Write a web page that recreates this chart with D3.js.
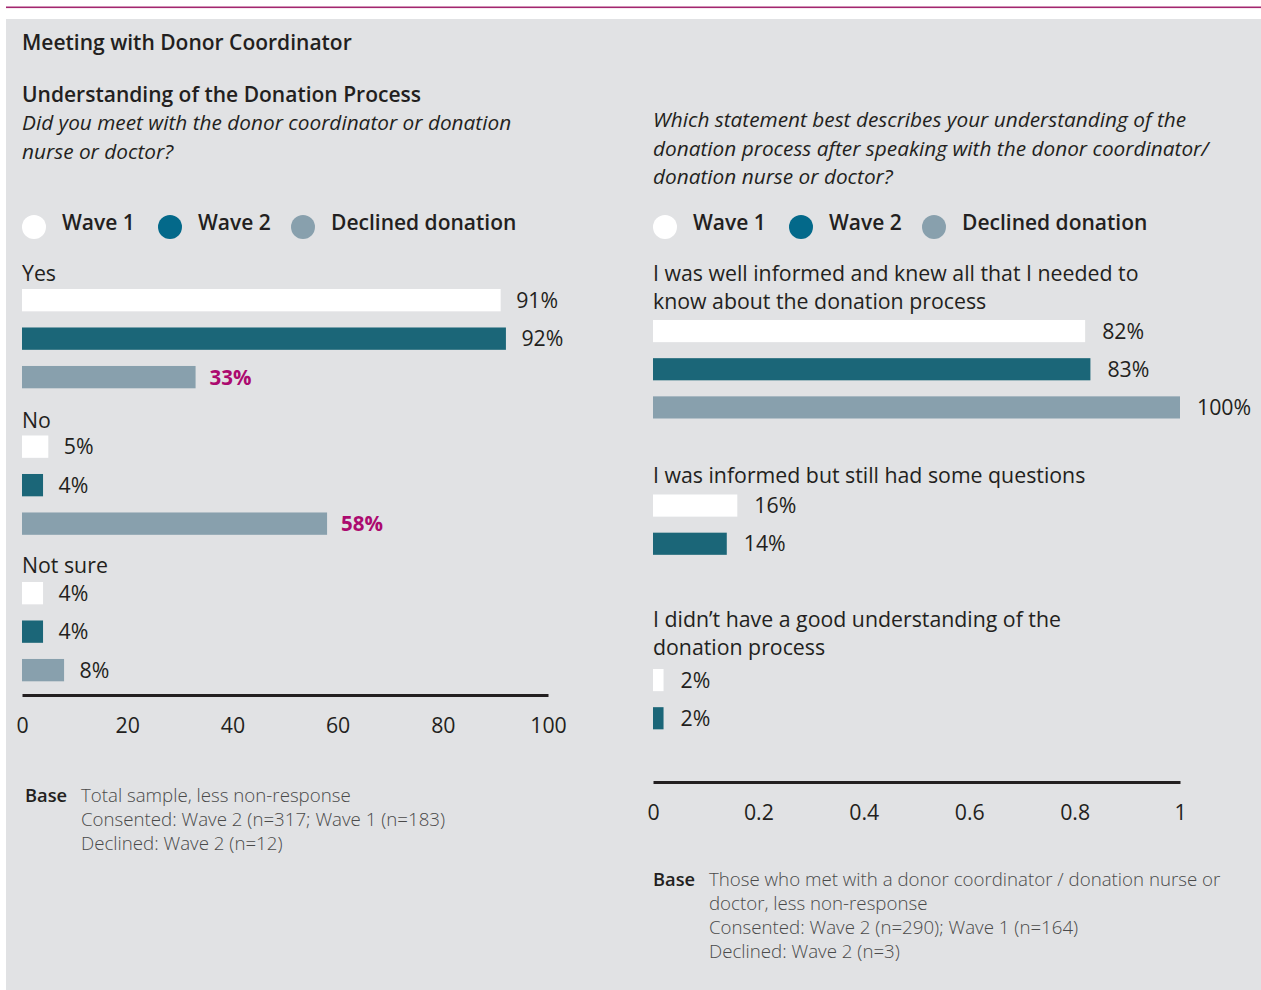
<!DOCTYPE html>
<html>
<head>
<meta charset="utf-8">
<script src="https://cdn.jsdelivr.net/npm/d3@7"></script>
<style>
  html, body { margin: 0; padding: 0; background: #ffffff; }
  svg { display: block; font-family: "Open Sans", "Noto Sans", sans-serif; }
</style>
</head>
<body>
<svg id="chart" width="1261" height="990"></svg>
<script>
// ---- Data -------------------------------------------------------------
const seriesNames = ["Wave 1", "Wave 2", "Declined donation"];

// Left panel: Did you meet with the donor coordinator or donation nurse or doctor?
const leftCategories = ["Yes", "No", "Not sure"];
const leftWave1 = [91, 5, 4];
const leftWave2 = [92, 4, 4];
const leftDeclined = [33, 58, 8];
const leftDeclinedHighlight = [true, true, false];
const leftTicks = [0, 20, 40, 60, 80, 100];

// Right panel: understanding of the donation process
const rightCategories = [
  "I was well informed and knew all that I needed to know about the donation process",
  "I was informed but still had some questions",
  "I didn’t have a good understanding of the donation process"
];
const rightCategoryLines = [
  ["I was well informed and knew all that I needed to", "know about the donation process"],
  ["I was informed but still had some questions"],
  ["I didn’t have a good understanding of the", "donation process"]
];
const rightWave1 = [0.82, 0.16, 0.02];
const rightWave2 = [0.83, 0.14, 0.02];
const rightDeclined = [1.00, null, null];
const rightTicks = [0, 0.2, 0.4, 0.6, 0.8, 1];

const leftBase = ["Total sample, less non-response",
                  "Consented: Wave 2 (n=317; Wave 1 (n=183)",
                  "Declined: Wave 2 (n=12)"];
const rightBase = ["Those who met with a donor coordinator / donation nurse or",
                   "doctor, less non-response",
                   "Consented: Wave 2 (n=290); Wave 1 (n=164)",
                   "Declined: Wave 2 (n=3)"];

// ---- Styles -------------------------------------------------------------
const barColors = { "Wave 1": "#ffffff", "Wave 2": "#1b6678", "Declined donation": "#88a0ad" };
const dotColors = { "Wave 1": "#ffffff", "Wave 2": "#03698a", "Declined donation": "#88a0ad" };
const ink = "#231f20";
const accent = "#ac0a6f";
const bodySize = 21.3;

const svg = d3.select("#chart");

// page frame
svg.append("rect").attr("x", 6).attr("y", 6.5).attr("width", 1255).attr("height", 1.6)
  .attr("fill", "#a3266f");
svg.append("rect").attr("x", 6).attr("y", 19).attr("width", 1255).attr("height", 971)
  .attr("fill", "#e1e2e4");

// headings
svg.append("text").attr("x", 22).attr("y", 50).attr("fill", ink)
  .attr("font-size", 21).attr("font-weight", 600).text("Meeting with Donor Coordinator");
svg.append("text").attr("x", 22).attr("y", 102).attr("fill", ink)
  .attr("font-size", 21).attr("font-weight", 600).text("Understanding of the Donation Process");

function italicBlock(x, y0, lines) {
  const t = svg.append("text").attr("fill", ink).attr("font-size", 20.8)
    .attr("font-style", "italic").attr("font-weight", 400);
  lines.forEach((s, i) => t.append("tspan").attr("x", x).attr("y", y0 + i * 28.5).text(s));
}
italicBlock(22, 130, ["Did you meet with the donor coordinator or donation", "nurse or doctor?"]);
italicBlock(653, 127, ["Which statement best describes your understanding of the",
                       "donation process after speaking with the donor coordinator/",
                       "donation nurse or doctor?"]);

// legends
function legend(xs, y) {
  const g = svg.append("g");
  seriesNames.forEach((name, i) => {
    g.append("circle").attr("cx", xs[i]).attr("cy", y).attr("r", 12)
      .attr("fill", dotColors[name]);
    g.append("text").attr("x", xs[i] + 28).attr("y", y + 3).attr("fill", ink)
      .attr("font-size", 21).attr("font-weight", 600).text(name);
  });
}
legend([34, 170, 303], 227);
legend([665, 801, 934], 227);

// ---- Panels -------------------------------------------------------------
function panel(cfg) {
  const g = svg.append("g");
  const x = d3.scaleLinear().domain(cfg.domain).range(cfg.xRange);
  const yGroup = d3.scaleBand().domain(cfg.categories).range(cfg.yRange).padding(0);
  const yInner = d3.scaleBand().domain(seriesNames).range([0, cfg.innerSpan]).paddingInner(cfg.innerPad).paddingOuter(0);

  const rows = [];
  cfg.categories.forEach((c, ci) => {
    seriesNames.forEach((s, si) => {
      const v = cfg.values[si][ci];
      if (v == null) return;
      rows.push({ cat: c, ci, series: s, value: v,
                  highlight: si === 2 && cfg.highlight && cfg.highlight[ci] });
    });
  });

  // category labels
  cfg.categories.forEach((c, ci) => {
    const lines = cfg.labelLines ? cfg.labelLines[ci] : [c];
    const top = yGroup(c);
    const gap = cfg.labelGap[ci];
    const t = g.append("text").attr("fill", ink).attr("font-size", bodySize);
    lines.forEach((s, li) => {
      t.append("tspan").attr("x", cfg.xRange[0])
        .attr("y", top - gap - (lines.length - 1 - li) * 28)
        .text(s);
    });
  });

  // bars
  g.selectAll("rect.bar").data(rows).join("rect")
    .attr("class", "bar")
    .attr("x", x(0))
    .attr("y", d => yGroup(d.cat) + yInner(d.series))
    .attr("width", d => x(d.value) - x(0))
    .attr("height", yInner.bandwidth())
    .attr("fill", d => barColors[d.series]);

  // value labels
  g.selectAll("text.val").data(rows).join("text")
    .attr("class", "val")
    .attr("x", d => x(d.value) + (d.highlight ? 14 : cfg.valueGap))
    .attr("y", d => yGroup(d.cat) + yInner(d.series) + yInner.bandwidth() / 2 + 7.5)
    .attr("font-size", d => d.highlight ? 20.5 : bodySize)
    .attr("font-weight", d => d.highlight ? 700 : 400)
    .attr("fill", d => d.highlight ? accent : ink)
    .text(d => cfg.fmt(d.value));

  // axis
  const axis = d3.axisBottom(x).tickValues(cfg.ticks).tickSize(0).tickSizeOuter(0)
    .tickPadding(23).tickFormat(d3.format("~g"));
  const ag = g.append("g").attr("transform", `translate(0,${cfg.axisY})`).call(axis);
  ag.select(".domain").attr("stroke", ink).attr("stroke-width", 3);
  ag.selectAll(".tick text").attr("font-size", bodySize).attr("fill", ink)
    .attr("font-family", "'Open Sans', 'Noto Sans', sans-serif");
}

panel({
  categories: leftCategories,
  values: [leftWave1, leftWave2, leftDeclined],
  highlight: leftDeclinedHighlight,
  domain: [0, 100], xRange: [22, 548],
  yRange: [289, 289 + 3 * 146.5],
  innerSpan: 99.3, innerPad: 0.42,
  labelGap: [8, 8, 9],
  valueGap: 15.5,
  axisY: 695, ticks: leftTicks,
  fmt: v => v + "%"
});

panel({
  categories: rightCategories,
  labelLines: rightCategoryLines,
  values: [rightWave1, rightWave2, rightDeclined],
  domain: [0, 1], xRange: [653, 1180],
  yRange: [320, 320 + 3 * 174.5],
  innerSpan: 98.5, innerPad: 0.42,
  labelGap: [11, 12, 14],
  valueGap: 17,
  axisY: 782, ticks: rightTicks,
  fmt: v => Math.round(v * 100) + "%"
});

// base notes
function baseNote(x, textX, y0, lines) {
  svg.append("text").attr("x", x).attr("y", y0).attr("fill", ink)
    .attr("font-size", 18.3).attr("font-weight", 600).text("Base");
  const t = svg.append("text").attr("fill", "#4a4a4a").attr("font-size", 18.7).attr("font-weight", 300);
  lines.forEach((s, i) => t.append("tspan").attr("x", textX).attr("y", y0 + i * 24).text(s));
}
baseNote(25, 81, 802, leftBase);
baseNote(653, 709, 886, rightBase);
</script>
</body>
</html>
